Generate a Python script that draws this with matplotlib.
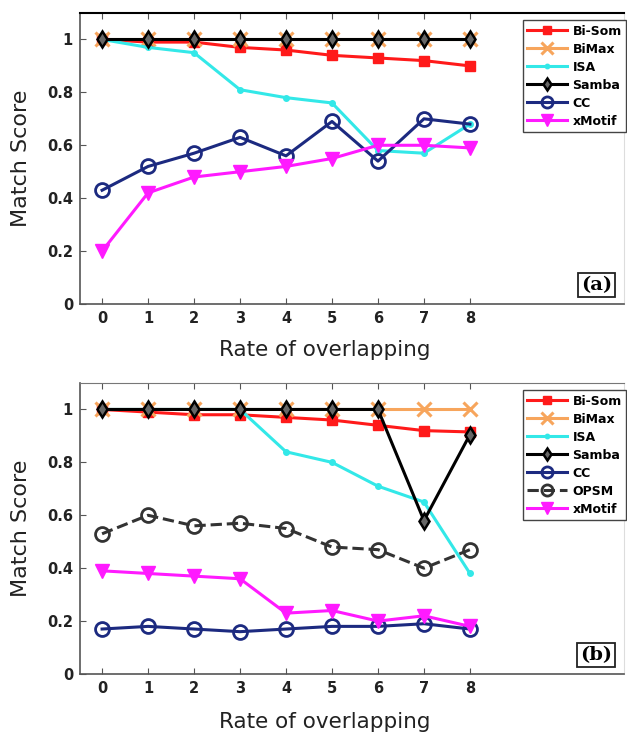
import matplotlib
matplotlib.use("Agg")
import matplotlib.pyplot as plt

overlap = [0, 1, 2, 3, 4, 5, 6, 7, 8]

# panel (a)
a_bisom = [1.0, 0.99, 0.99, 0.97, 0.96, 0.94, 0.93, 0.92, 0.90]
a_bimax = [1.0, 1.0, 1.0, 1.0, 1.0, 1.0, 1.0, 1.0, 1.0]
a_isa = [1.0, 0.97, 0.95, 0.81, 0.78, 0.76, 0.58, 0.57, 0.68]
a_samba = [1.0, 1.0, 1.0, 1.0, 1.0, 1.0, 1.0, 1.0, 1.0]
a_cc = [0.43, 0.52, 0.57, 0.63, 0.56, 0.69, 0.54, 0.70, 0.68]
a_xmotif = [0.20, 0.42, 0.48, 0.50, 0.52, 0.55, 0.60, 0.60, 0.59]

# panel (b)
b_bisom = [1.0, 0.99, 0.98, 0.98, 0.97, 0.96, 0.94, 0.92, 0.915]
b_bimax = [1.0, 1.0, 1.0, 1.0, 1.0, 1.0, 1.0, 1.0, 1.0]
b_isa = [1.0, 1.0, 1.0, 1.0, 0.84, 0.80, 0.71, 0.65, 0.38]
b_samba = [1.0, 1.0, 1.0, 1.0, 1.0, 1.0, 1.0, 0.58, 0.905]
b_cc = [0.17, 0.18, 0.17, 0.16, 0.17, 0.18, 0.18, 0.19, 0.17]
b_opsm = [0.53, 0.60, 0.56, 0.57, 0.55, 0.48, 0.47, 0.40, 0.47]
b_xmotif = [0.39, 0.38, 0.37, 0.36, 0.23, 0.24, 0.20, 0.22, 0.18]

yticks = [0, 0.2, 0.4, 0.6, 0.8, 1]
ytick_labels = ["0", "0.2", "0.4", "0.6", "0.8", "1"]

STYLES = {
    "Bi-Som": dict(color="#ff1a1a", marker="s", ms=7, mfc="#ff1a1a", mec="#ff1a1a", ls="-"),
    "BiMax": dict(color="#f7a55c", marker="x", ms=10, mew=2.2, ls="-"),
    "ISA": dict(color="#33e8e8", marker=".", ms=8, ls="-"),
    "Samba": dict(color="black", marker="d", ms=8, mfc="#666666", mec="black", mew=1.8, ls="-"),
    "CC": dict(color="#1c2a80", marker="o", ms=10, mfc="none", mec="#1c2a80", mew=2, ls="-"),
    "OPSM": dict(color="#333333", marker="o", ms=10, mfc="none", mec="#333333", mew=2, ls="--"),
    "xMotif": dict(color="#ff1aff", marker="v", ms=10, mfc="#ff1aff", mec="#ff1aff", ls="-"),
}

W, H = 627, 733
fig = plt.figure(figsize=(W / 100, H / 100), dpi=100)


def make_axes(top_px, bottom_px):
    left_px, right_px = 80, 624
    return fig.add_axes([left_px / W, 1 - bottom_px / H,
                         (right_px - left_px) / W, (bottom_px - top_px) / H])


def style_axes(ax, tag, xlabel_y):
    ax.set_xlim(-0.48, 11.35)
    ax.set_ylim(0, 1.1)
    ax.set_xticks(overlap)
    ax.set_xticklabels([str(v) for v in overlap], fontsize=10.5,
                       fontweight="bold", family="DejaVu Sans")
    ax.set_yticks(yticks)
    ax.set_yticklabels(ytick_labels, fontsize=10.5, fontweight="bold",
                       family="DejaVu Sans")
    ax.tick_params(direction="in", top=True, length=4, width=0.8, colors="#555555",
                   labelcolor="#222222", pad=5)
    for side in ["left", "bottom"]:
        ax.spines[side].set_color("#555555")
        ax.spines[side].set_linewidth(1.2)
    ax.spines["right"].set_color("#dddddd")
    ax.spines["right"].set_linewidth(0.8)
    ax.set_ylabel("Match Score", fontsize=16, family="DejaVu Sans", color="#222222")
    ax.set_xlabel("Rate of overlapping", fontsize=15.5, family="DejaVu Sans",
                  color="#222222")
    ax.xaxis.set_label_coords(0.45, xlabel_y)
    ax.yaxis.set_label_coords(-0.09, 0.5)
    ax.text(0.978, 0.035, tag, transform=ax.transAxes, ha="right", va="bottom",
            fontsize=14, fontweight="bold", family="DejaVu Serif",
            bbox=dict(boxstyle="square,pad=0.15", fc="white", ec="#222222", lw=1.3))


def draw(ax, series, top_color):
    for name, values in series:
        ax.plot(overlap, values, lw=2.2, label=name, **STYLES[name])
    ax.spines["top"].set_color(top_color)
    leg = ax.legend(loc="upper left", bbox_to_anchor=(443 / 544, 0.975),
                    prop=dict(size=9, weight="bold", family="DejaVu Sans"),
                    handlelength=3.2, handletextpad=0.4, labelspacing=0.4,
                    borderpad=0.35, borderaxespad=0, fancybox=False,
                    edgecolor="#444444", framealpha=1, markerscale=0.8)
    leg.get_frame().set_linewidth(1.0)


ax1 = make_axes(13, 304)
draw(ax1, [("Bi-Som", a_bisom), ("BiMax", a_bimax), ("ISA", a_isa),
           ("Samba", a_samba), ("CC", a_cc), ("xMotif", a_xmotif)], "black")
style_axes(ax1, "(a)", -0.122)
ax1.spines["top"].set_linewidth(1.5)

ax2 = make_axes(383, 674)
draw(ax2, [("Bi-Som", b_bisom), ("BiMax", b_bimax), ("ISA", b_isa),
           ("Samba", b_samba), ("CC", b_cc), ("OPSM", b_opsm),
           ("xMotif", b_xmotif)], "#777777")
style_axes(ax2, "(b)", -0.132)

fig.savefig("out.png", dpi=100)
